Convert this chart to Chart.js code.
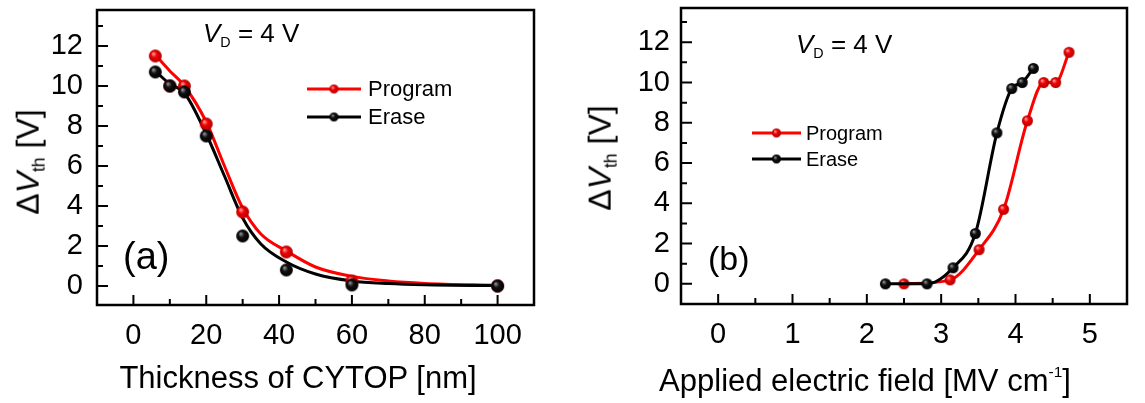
<!DOCTYPE html>
<html>
<head>
<meta charset="utf-8">
<script src="https://cdn.jsdelivr.net/npm/chart.js@4.4.1/dist/chart.umd.min.js"></script>
<style>
  body { margin: 0; background: #fff; }
  #wrap { position: relative; width: 1145px; height: 403px; background: #fff; overflow: hidden;
          font-family: "Liberation Sans", Arial, sans-serif; color: #000; }
  canvas { position: absolute; top: 0; }
  .txt { position: absolute; white-space: nowrap; line-height: 1; }
  .ytitle { position: absolute; white-space: nowrap; line-height: 1; font-size: 32px;
            transform: translate(-50%, -50%) rotate(-90deg); }
  .xtitle { position: absolute; white-space: nowrap; line-height: 1; font-size: 31px;
            text-align: center; }
  sub.s { font-size: 0.55em; vertical-align: -0.35em; }
  sup.s { font-size: 0.5em; vertical-align: 0.9em; }
</style>
</head>
<body>
<div id="wrap">
  <canvas id="chartA" width="560" height="403" style="left:0"></canvas>
  <canvas id="chartB" width="585" height="403" style="left:560px"></canvas>

  <div class="ytitle" style="left:30px; top:162px">&Delta;<i>V</i><sub class="s">th</sub> [V]</div>
  <div class="ytitle" style="left:602px; top:158px">&Delta;<i>V</i><sub class="s">th</sub> [V]</div>

  <div class="xtitle" style="left:98px; width:400px; top:362px">Thickness of CYTOP [nm]</div>
  <div class="xtitle" style="left:640px; width:450px; top:364px">Applied electric field [MV cm<sup class="s">-1</sup>]</div>

  <div class="txt" style="left:203px; top:20px; font-size:26px"><i>V</i><sub class="s">D</sub> = 4 V</div>
  <div class="txt" style="left:796px; top:31px; font-size:26px"><i>V</i><sub class="s">D</sub> = 4 V</div>

  <div class="txt" style="left:123px; top:237px; font-size:38px">(a)</div>
  <div class="txt" style="left:708px; top:241px; font-size:34px">(b)</div>
</div>

<script>
// panel (a): threshold shift vs CYTOP thickness
const thicknessProgram = [6, 10, 14, 20, 30, 42, 60, 100];
const dvProgramA = [11.5, 10.0, 10.0, 8.1, 3.7, 1.7, 0.25, 0];
const thicknessErase = [6, 10, 14, 20, 30, 42, 60, 100];
const dvEraseA = [10.7, 10.0, 9.7, 7.5, 2.5, 0.8, 0.05, 0];

// fitted curves in panel (a)
const fitThickness = [6, 10, 14, 20, 25, 30, 35, 42, 50, 60, 70, 80, 100];
const fitProgram = [11.55, 10.75, 10.0, 8.2, 6.0, 3.9, 2.6, 1.75, 0.95, 0.48, 0.25, 0.13, 0.03];
const fitErase = [10.75, 10.1, 9.65, 7.6, 5.5, 3.4, 2.1, 1.2, 0.6, 0.25, 0.12, 0.06, 0.02];

// panel (b): threshold shift vs applied field
const fieldProgram = [2.50, 3.12, 3.51, 3.84, 4.16, 4.38, 4.54, 4.72];
const dvProgramB = [0, 0.2, 1.7, 3.7, 8.1, 10.0, 10.0, 11.5];
const fieldErase = [2.25, 2.81, 3.16, 3.46, 3.75, 3.95, 4.09, 4.24];
const dvEraseB = [0, 0, 0.8, 2.5, 7.5, 9.7, 10.0, 10.7];

// ticks
const thicknessTicks = [0, 20, 40, 60, 80, 100];
const thicknessMinor = [10, 30, 50, 70, 90];
const fieldTicks = [0, 1, 2, 3, 4, 5];
const fieldMinor = [0.5, 1.5, 2.5, 3.5, 4.5];
const dvTicks = [0, 2, 4, 6, 8, 10, 12];
const dvMinor = [1, 3, 5, 7, 9, 11, 13];

const FONT = '"Liberation Sans", Arial, sans-serif';
const RED = '#ff0000';
const BLACK = '#000000';

function zip(xs, ys) {
    return xs.map((x, i) => ({ x: x, y: ys[i] }));
}

// shaded sphere marker
function makeBall(r, base, light, edge) {
    const c = document.createElement('canvas');
    const s = Math.ceil(r * 2 + 2);
    c.width = s;
    c.height = s;
    const g = c.getContext('2d');
    const cx = s / 2, cy = s / 2;
    const grad = g.createRadialGradient(cx - r * 0.35, cy - r * 0.4, 0, cx, cy, r);
    grad.addColorStop(0, light);
    grad.addColorStop(0.45, base);
    grad.addColorStop(1, edge);
    g.fillStyle = grad;
    g.beginPath();
    g.arc(cx, cy, r, 0, Math.PI * 2);
    g.fill();
    return c;
}

const balls = {
    redA: makeBall(6.5, '#f20000', '#ffb8c0', '#b00000'),
    blackA: makeBall(6.5, '#111111', '#a8a8b0', '#000000'),
    redB: makeBall(5.5, '#f20000', '#ffb8c0', '#b00000'),
    blackB: makeBall(5.5, '#111111', '#a8a8b0', '#000000'),
    redL: makeBall(4.5, '#f20000', '#ffb8c0', '#b00000'),
    blackL: makeBall(4.5, '#111111', '#a8a8b0', '#000000'),
    redL2: makeBall(4.5, '#f20000', '#ffb8c0', '#b00000'),
    blackL2: makeBall(4.5, '#111111', '#a8a8b0', '#000000')
};

// frame with inward ticks plus the legend
const frame = {
    id: 'frame',
    afterDraw(chart, args, opts) {
        const ctx = chart.ctx;
        const a = chart.chartArea;
        const x = chart.scales.x, y = chart.scales.y;
        ctx.save();
        ctx.strokeStyle = BLACK;
        ctx.lineWidth = 2;
        ctx.beginPath();
        for (let v of opts.xMajor) {
            const p = x.getPixelForValue(v);
            ctx.moveTo(p, a.bottom);
            ctx.lineTo(p, a.bottom - 10);
        }
        for (let v of opts.xMinor) {
            const p = x.getPixelForValue(v);
            ctx.moveTo(p, a.bottom);
            ctx.lineTo(p, a.bottom - 6);
        }
        for (let v of opts.yMajor) {
            const p = y.getPixelForValue(v);
            ctx.moveTo(a.left, p);
            ctx.lineTo(a.left + 11, p);
        }
        for (let v of opts.yMinor) {
            const p = y.getPixelForValue(v);
            ctx.moveTo(a.left, p);
            ctx.lineTo(a.left + 6, p);
        }
        ctx.stroke();
        ctx.lineWidth = 2.5;
        ctx.strokeRect(a.left, a.top, a.right - a.left, a.bottom - a.top);

        const lg = opts.legend;
        ctx.font = lg.size + 'px ' + FONT;
        ctx.textBaseline = 'middle';
        ctx.textAlign = 'left';
        lg.items.forEach((it, i) => {
            const ly = lg.y + i * lg.gap;
            ctx.strokeStyle = it.color;
            ctx.lineWidth = 3;
            ctx.beginPath();
            ctx.moveTo(lg.x, ly);
            ctx.lineTo(lg.x + lg.len, ly);
            ctx.stroke();
            const b = balls[it.ball];
            ctx.drawImage(b, lg.x + lg.len / 2 - b.width / 2, ly - b.height / 2);
            ctx.fillStyle = BLACK;
            ctx.fillText(it.text, lg.x + lg.len + lg.pad, ly + 1);
        });
        ctx.restore();
    }
};

function axisX(min, max, ticks, height) {
    return {
        type: 'linear',
        min: min,
        max: max,
        grid: { display: false, drawTicks: false },
        border: { display: false },
        afterBuildTicks: (s) => { s.ticks = ticks.map(v => ({ value: v })); },
        afterFit: (s) => {
            s.height = height;
            s.paddingLeft = 0;
            s.paddingRight = 0;
        },
        ticks: {
            padding: 14,
            color: BLACK,
            maxRotation: 0,
            autoSkip: false,
            font: { family: FONT, size: 29 }
        }
    };
}

function axisY(min, max, width, pad) {
    return {
        type: 'linear',
        min: min,
        max: max,
        grid: { display: false, drawTicks: false },
        border: { display: false },
        afterBuildTicks: (s) => { s.ticks = dvTicks.map(v => ({ value: v })); },
        afterFit: (s) => {
            s.width = width;
            s.paddingTop = 0;
            s.paddingBottom = 0;
        },
        ticks: {
            padding: pad,
            color: BLACK,
            autoSkip: false,
            font: { family: FONT, size: 29 }
        }
    };
}

new Chart(document.getElementById('chartA'), {
    type: 'scatter',
    data: {
        datasets: [
            {
                label: 'Erase',
                data: zip(thicknessErase, dvEraseA),
                pointStyle: balls.blackA,
                showLine: false,
                order: 0
            },
            {
                label: 'Program',
                data: zip(thicknessProgram, dvProgramA),
                pointStyle: balls.redA,
                showLine: false,
                order: 1
            },
            {
                label: 'Erase fit',
                data: zip(fitThickness, fitErase),
                showLine: true,
                borderColor: BLACK,
                borderWidth: 3,
                pointRadius: 0,
                cubicInterpolationMode: 'monotone',
                order: 2
            },
            {
                label: 'Program fit',
                data: zip(fitThickness, fitProgram),
                showLine: true,
                borderColor: RED,
                borderWidth: 3,
                pointRadius: 0,
                cubicInterpolationMode: 'monotone',
                order: 3
            }
        ]
    },
    options: {
        responsive: false,
        animation: false,
        devicePixelRatio: 1,
        layout: { padding: { left: 0, right: 26, top: 10, bottom: 0 } },
        scales: {
            x: axisX(-10, 110, thicknessTicks, 98),
            y: axisY(-0.95, 13.8, 97, 14)
        },
        plugins: {
            legend: { display: false },
            tooltip: { enabled: false },
            frame: {
                xMajor: thicknessTicks,
                xMinor: thicknessMinor,
                yMajor: dvTicks,
                yMinor: dvMinor,
                legend: {
                    x: 307, y: 89, gap: 28, len: 54, pad: 7, size: 22,
                    items: [
                        { text: 'Program', color: RED, ball: 'redL' },
                        { text: 'Erase', color: BLACK, ball: 'blackL' }
                    ]
                }
            }
        }
    },
    plugins: [frame]
});

new Chart(document.getElementById('chartB'), {
    type: 'scatter',
    data: {
        datasets: [
            {
                label: 'Erase',
                data: zip(fieldErase, dvEraseB),
                showLine: true,
                borderColor: BLACK,
                borderWidth: 3,
                pointStyle: balls.blackB,
                cubicInterpolationMode: 'monotone',
                order: 0
            },
            {
                label: 'Program',
                data: zip(fieldProgram, dvProgramB),
                showLine: true,
                borderColor: RED,
                borderWidth: 3,
                pointStyle: balls.redB,
                cubicInterpolationMode: 'monotone',
                order: 1
            }
        ]
    },
    options: {
        responsive: false,
        animation: false,
        devicePixelRatio: 1,
        layout: { padding: { left: 0, right: 18, top: 8, bottom: 0 } },
        scales: {
            x: axisX(-0.5, 5.5, fieldTicks, 99),
            y: axisY(-1.0, 13.7, 121, 11)
        },
        plugins: {
            legend: { display: false },
            tooltip: { enabled: false },
            frame: {
                xMajor: fieldTicks,
                xMinor: fieldMinor,
                yMajor: dvTicks,
                yMinor: dvMinor,
                legend: {
                    x: 192, y: 133, gap: 26, len: 49, pad: 5, size: 20,
                    items: [
                        { text: 'Program', color: RED, ball: 'redL2' },
                        { text: 'Erase', color: BLACK, ball: 'blackL2' }
                    ]
                }
            }
        }
    },
    plugins: [frame]
});
</script>
</body>
</html>
